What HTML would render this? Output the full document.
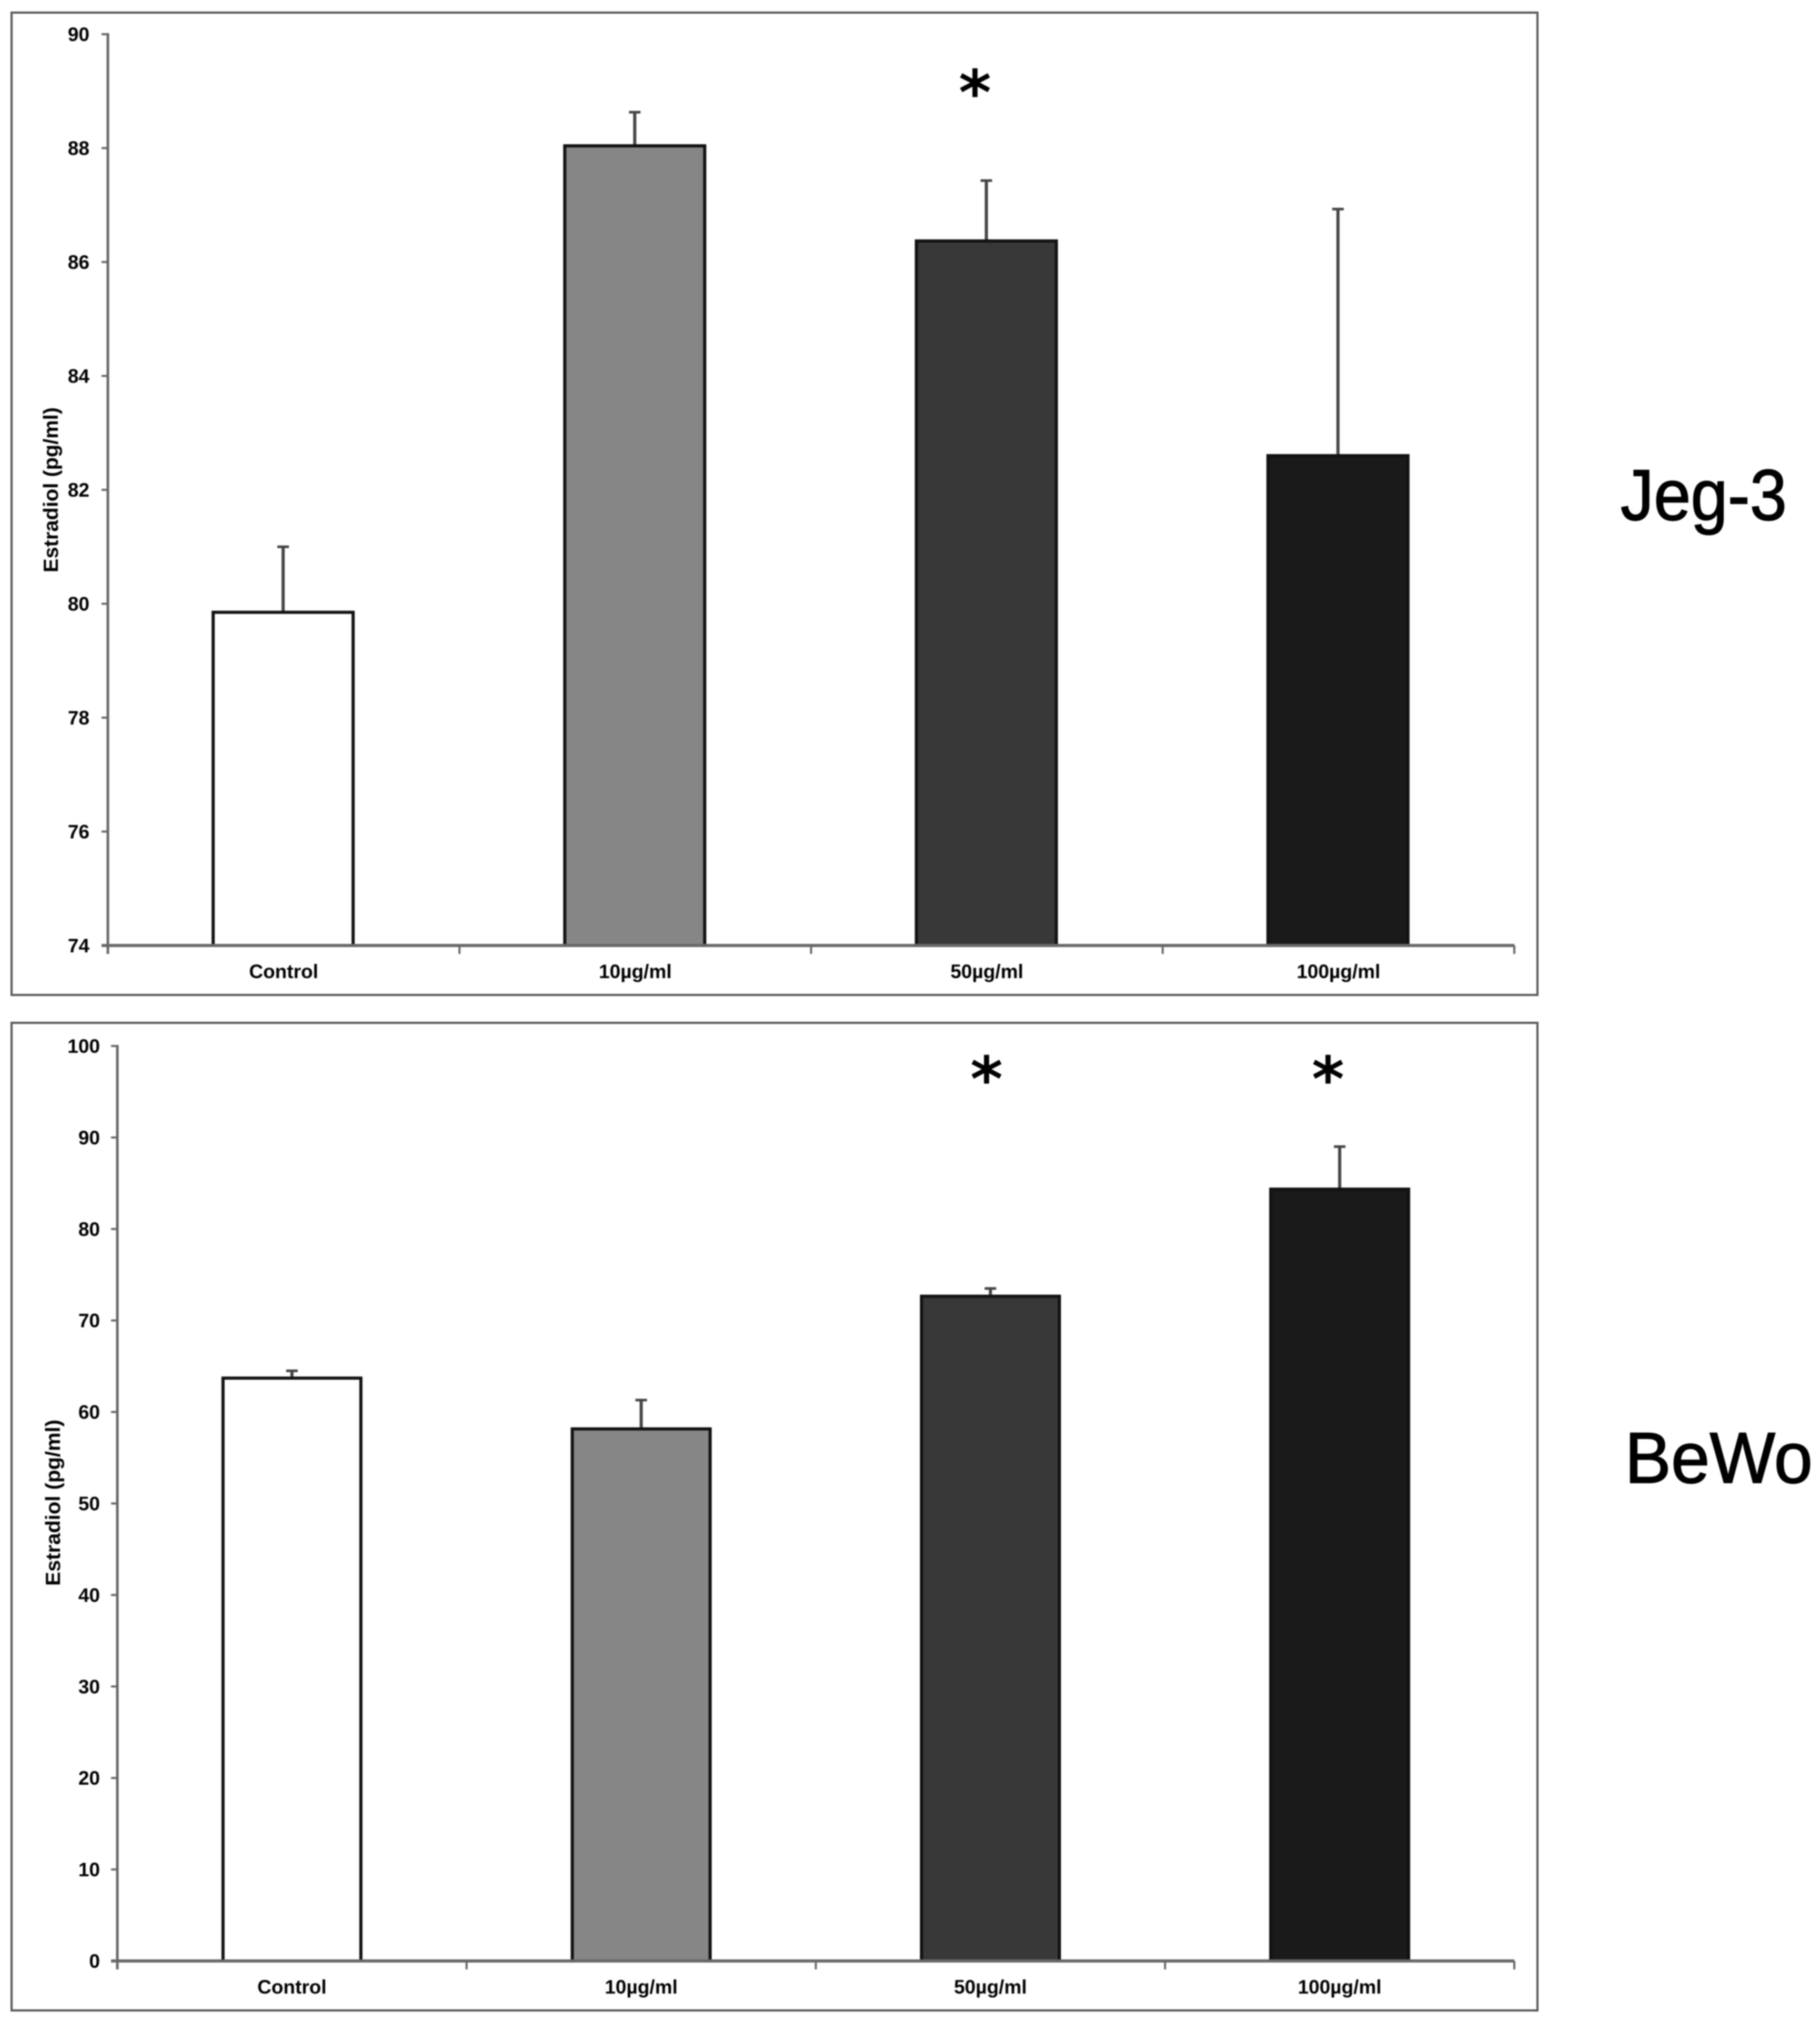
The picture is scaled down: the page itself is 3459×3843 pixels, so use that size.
<!DOCTYPE html>
<html lang="en">
<head>
<meta charset="utf-8">
<title>Estradiol in Jeg-3 and BeWo cells</title>
<style>
  html, body { margin: 0; padding: 0; background: #fff; }
  body { width: 3459px; height: 3843px; overflow: hidden; }
  svg { display: block; filter: blur(1.2px); }
  text { font-family: "Liberation Sans", sans-serif; fill: #000; }
  .tick, .cat, .ytitle { font-weight: 700; font-size: 37px; }
  .ytitle { font-size: 39px; }
  .side { font-size: 137px; stroke: #000; stroke-width: 2px; }
  .star { font-family: "DejaVu Sans", sans-serif; font-weight: 700; font-size: 118px; text-anchor: middle; }
</style>
</head>
<body>
<svg id="figure" xmlns="http://www.w3.org/2000/svg" width="3459" height="3843" viewBox="0 0 3459 3843">
  <rect x="22" y="24" width="2900" height="1867" fill="#fff" stroke="#555" stroke-width="4"/>
  <rect x="22" y="1944" width="2900" height="1877" fill="#fff" stroke="#555" stroke-width="4"/>
  <g id="jeg3-chart">
    <text class="ytitle" text-anchor="middle" textLength="314" lengthAdjust="spacingAndGlyphs" transform="translate(110 931) rotate(-90)">Estradiol (pg/ml)</text>
  </g>
  <g id="bewo-chart">
    <text class="ytitle" text-anchor="middle" textLength="316" lengthAdjust="spacingAndGlyphs" transform="translate(114 2856) rotate(-90)">Estradiol (pg/ml)</text>
  </g>
  <text class="side" x="3080" y="988" textLength="316" lengthAdjust="spacingAndGlyphs">Jeg-3</text>
  <text class="side" x="3088" y="2818" textLength="357" lengthAdjust="spacingAndGlyphs">BeWo</text>
  <text class="star" x="1853" y="217">*</text>
  <text class="star" x="1875" y="2092">*</text>
  <text class="star" x="2524" y="2092">*</text>
</svg>
<script>
const categories = ["Control", "10µg/ml", "50µg/ml", "100µg/ml"];

const jegValues = [79.85, 88.04, 86.37, 82.6];
const jegErrorTops = [81.0, 88.63, 87.43, 86.93];
const jegTickLabels = ["74", "76", "78", "80", "82", "84", "86", "88", "90"];

const bewoValues = [63.7, 58.15, 72.65, 84.35];
const bewoErrorTops = [64.5, 61.3, 73.5, 89.0];
const bewoTickLabels = ["0", "10", "20", "30", "40", "50", "60", "70", "80", "90", "100"];

const barFills = ["#ffffff", "#868686", "#383838", "#1a1a1a"];
const SVG_NS = "http://www.w3.org/2000/svg";

function make(parent, tag, attrs, content) {
  const el = document.createElementNS(SVG_NS, tag);
  for (const k in attrs) el.setAttribute(k, attrs[k]);
  if (content !== undefined) el.textContent = content;
  parent.appendChild(el);
  return el;
}

function drawChart(cfg) {
  const root = document.getElementById(cfg.id);
  const yMin = parseFloat(cfg.ticks[0]);
  const yMax = parseFloat(cfg.ticks[cfg.ticks.length - 1]);
  const yScale = v => cfg.bottom - (v - yMin) / (yMax - yMin) * (cfg.bottom - cfg.top);
  const step = (cfg.right - cfg.left) / cfg.cats.length;
  const xCenter = i => cfg.left + step * (i + 0.5);
  const axisColor = "#686868";

  // error bars (behind bars)
  cfg.values.forEach(function (v, i) {
    const x = xCenter(i) + cfg.barShift;
    const stem = make(root, "line", { x1: x, x2: x, y1: yScale(v), y2: yScale(cfg.errorTops[i]), stroke: "#444", "stroke-width": 6 });
    
    
    const cap = make(root, "line", { x1: x - 11, x2: x + 11, y1: yScale(cfg.errorTops[i]), y2: yScale(cfg.errorTops[i]), stroke: "#444", "stroke-width": 5 });
    
    
  });

  // bars
  cfg.values.forEach(function (v, i) {
    const top = yScale(v);
    const bar = make(root, "rect", {
      x: xCenter(i) + cfg.barShift - cfg.barWidth / 2, y: top, width: cfg.barWidth, height: cfg.bottom - top,
      fill: barFills[i], stroke: "#111", "stroke-width": 6
    });
    
    
  });

  // y axis
  const yAxis = make(root, "line", { x1: cfg.left, x2: cfg.left, y1: cfg.top - 2, y2: cfg.bottom + 16, stroke: axisColor, "stroke-width": 5 });
  
  
  cfg.ticks.forEach(function (label) {
    const val = parseFloat(label);
    const y = yScale(val);
    const tick = make(root, "line", { x1: cfg.left - 12, x2: cfg.left, y1: y, y2: y, stroke: axisColor, "stroke-width": 4 });
    
    
    const text = make(root, "text", { class: "tick", x: cfg.labelRight, y: y + 13, "text-anchor": "end" }, label);
    
    
  });

  // x axis
  const xAxis = make(root, "line", { x1: cfg.left - 12, x2: cfg.right, y1: cfg.bottom, y2: cfg.bottom, stroke: axisColor, "stroke-width": 6 });
  
  
  for (let i = 1; i <= cfg.cats.length; i++) {
    const x = cfg.left + step * i;
    const tick = make(root, "line", { x1: x, x2: x, y1: cfg.bottom, y2: cfg.bottom + 16, stroke: axisColor, "stroke-width": 4 });
    
    
  }
  cfg.cats.forEach(function (c, i) {
    const text = make(root, "text", { class: "cat", x: xCenter(i), y: cfg.bottom + 62, "text-anchor": "middle" }, c);
    
    
  });
}

drawChart({ id: "jeg3-chart", left: 205, right: 2878, top: 65, bottom: 1797, barWidth: 266, barShift: -1, labelRight: 170, cats: categories, values: jegValues, errorTops: jegErrorTops, ticks: jegTickLabels });
drawChart({ id: "bewo-chart", left: 223, right: 2878, top: 1988, bottom: 3727, barWidth: 262, barShift: 0, labelRight: 190, cats: categories, values: bewoValues, errorTops: bewoErrorTops, ticks: bewoTickLabels });
</script>
</body>
</html>
